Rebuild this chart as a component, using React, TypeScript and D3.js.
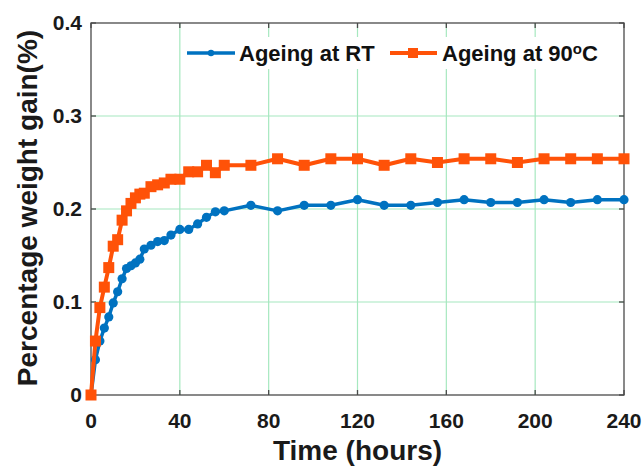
import { useEffect, useRef } from 'react'
import * as d3 from 'd3'

// sampling times (hours)
const TIMES = [0, 2, 4, 6, 8, 10, 12, 14, 16, 18, 20, 22, 24, 27, 30, 33, 36, 40, 44, 48, 52, 56, 60,
  72, 84, 96, 108, 120, 132, 144, 156, 168, 180, 192, 204, 216, 228, 240]

const RT_GAIN = [0, 0.038, 0.058, 0.072, 0.084, 0.099, 0.111, 0.125, 0.136, 0.139, 0.142, 0.146, 0.157,
  0.161, 0.165, 0.166, 0.172, 0.178, 0.178, 0.184, 0.191, 0.197, 0.198,
  0.204, 0.198, 0.204, 0.204, 0.21, 0.204, 0.204, 0.207, 0.21, 0.207, 0.207, 0.21, 0.207, 0.21, 0.21]

const HOT_GAIN = [0, 0.058, 0.094, 0.116, 0.137, 0.16, 0.167, 0.188, 0.198, 0.206, 0.212, 0.216, 0.217,
  0.224, 0.226, 0.228, 0.232, 0.232, 0.24, 0.24, 0.247, 0.239, 0.247,
  0.247, 0.254, 0.247, 0.254, 0.254, 0.247, 0.254, 0.25, 0.254, 0.254, 0.25, 0.254, 0.254, 0.254, 0.254]

const X_TICKS = [0, 40, 80, 120, 160, 200, 240]
const Y_TICKS = [0, 0.1, 0.2, 0.3, 0.4]

const BLUE = '#0072c0'
const ORANGE = '#ff5208'
const GRID = '#a6e8bf'
const AXIS = '#4a4a4a'
const FONT = '"Liberation Sans", Arial, sans-serif'

export default function App() {
  const svgRef = useRef<SVGSVGElement>(null)
  const WIDTH = 644
  const HEIGHT = 468
  const M = { top: 23, right: 20, bottom: 73, left: 91 }
  const IW = WIDTH - M.left - M.right
  const IH = HEIGHT - M.top - M.bottom

  useEffect(() => {
    if (!svgRef.current) return
    const svg = d3.select(svgRef.current)
    svg.selectAll('*').remove()

    const x = d3.scaleLinear().domain([0, 240]).range([0, IW])
    const y = d3.scaleLinear().domain([0, 0.4]).range([IH, 0])

    const g = svg.append('g').attr('transform', `translate(${M.left},${M.top})`)

    // grid
    X_TICKS.slice(1, -1).forEach(t =>
      g.append('line').attr('x1', x(t)).attr('x2', x(t)).attr('y1', 0).attr('y2', IH)
        .attr('stroke', GRID).attr('stroke-width', 1.2))
    Y_TICKS.slice(1, -1).forEach(t =>
      g.append('line').attr('x1', 0).attr('x2', IW).attr('y1', y(t)).attr('y2', y(t))
        .attr('stroke', GRID).attr('stroke-width', 1.2))

    // box + inward ticks
    g.append('rect').attr('x', 0).attr('y', 0).attr('width', IW).attr('height', IH)
      .attr('fill', 'none').attr('stroke', AXIS).attr('stroke-width', 1.3)
    X_TICKS.forEach(t => {
      g.append('line').attr('x1', x(t)).attr('x2', x(t)).attr('y1', IH).attr('y2', IH - 5)
        .attr('stroke', AXIS).attr('stroke-width', 1.3)
      g.append('line').attr('x1', x(t)).attr('x2', x(t)).attr('y1', 0).attr('y2', 5)
        .attr('stroke', AXIS).attr('stroke-width', 1.3)
    })
    Y_TICKS.forEach(t => {
      g.append('line').attr('x1', 0).attr('x2', 5).attr('y1', y(t)).attr('y2', y(t))
        .attr('stroke', AXIS).attr('stroke-width', 1.3)
      g.append('line').attr('x1', IW).attr('x2', IW - 5).attr('y1', y(t)).attr('y2', y(t))
        .attr('stroke', AXIS).attr('stroke-width', 1.3)
    })

    // tick labels
    X_TICKS.forEach(t =>
      g.append('text').attr('x', x(t)).attr('y', IH + 33).attr('text-anchor', 'middle')
        .attr('font-family', FONT).attr('font-weight', 'bold').attr('font-size', 21)
        .attr('fill', '#1a1a1a').text(String(t)))
    Y_TICKS.forEach(t =>
      g.append('text').attr('x', -9).attr('y', y(t) + 7).attr('text-anchor', 'end')
        .attr('font-family', FONT).attr('font-weight', 'bold').attr('font-size', 21)
        .attr('fill', '#1a1a1a').text(t === 0 ? '0' : t.toFixed(1)))

    // axis titles
    g.append('text').attr('x', IW / 2).attr('y', IH + 65).attr('text-anchor', 'middle')
      .attr('font-family', FONT).attr('font-weight', 'bold').attr('font-size', 28)
      .attr('fill', '#1a1a1a').text('Time (hours)')
    g.append('text').attr('transform', 'rotate(-90)').attr('x', -IH / 2 + 1).attr('y', -54)
      .attr('text-anchor', 'middle').attr('font-family', FONT).attr('font-weight', 'bold')
      .attr('font-size', 28).attr('fill', '#1a1a1a').text('Percentage weight gain(%)')

    // series
    const line = d3.line<number>().x((_, i) => x(TIMES[i])).y(d => y(d))
    g.append('path').datum(RT_GAIN).attr('d', line).attr('fill', 'none')
      .attr('stroke', BLUE).attr('stroke-width', 3.5).attr('stroke-linejoin', 'round')
    RT_GAIN.forEach((v, i) =>
      g.append('circle').attr('cx', x(TIMES[i])).attr('cy', y(v)).attr('r', 4.6).attr('fill', BLUE))

    g.append('path').datum(HOT_GAIN).attr('d', line).attr('fill', 'none')
      .attr('stroke', ORANGE).attr('stroke-width', 4).attr('stroke-linejoin', 'round')
    HOT_GAIN.forEach((v, i) =>
      g.append('rect').attr('x', x(TIMES[i]) - 5.5).attr('y', y(v) - 5.5)
        .attr('width', 11).attr('height', 11).attr('fill', ORANGE))

    // legend
    const lg = svg.append('g')
    lg.append('rect').attr('x', 183).attr('y', 37).attr('width', 428).attr('height', 32).attr('fill', '#fff')
    lg.append('line').attr('x1', 187).attr('x2', 235).attr('y1', 53).attr('y2', 53)
      .attr('stroke', BLUE).attr('stroke-width', 3.5)
    lg.append('circle').attr('cx', 211).attr('cy', 53).attr('r', 3.2).attr('fill', BLUE)
    lg.append('text').attr('x', 239).attr('y', 61).attr('font-family', FONT).attr('font-weight', 'bold')
      .attr('font-size', 22).attr('fill', '#111').text('Ageing at RT')
    lg.append('line').attr('x1', 390).attr('x2', 437).attr('y1', 53).attr('y2', 53)
      .attr('stroke', ORANGE).attr('stroke-width', 4)
    lg.append('rect').attr('x', 408).attr('y', 48).attr('width', 10).attr('height', 10).attr('fill', ORANGE)
    const t2 = lg.append('text').attr('x', 442).attr('y', 61).attr('font-family', FONT)
      .attr('font-weight', 'bold').attr('font-size', 22).attr('fill', '#111')
    t2.append('tspan').text('Ageing at 90')
    t2.append('tspan').attr('font-size', 15).attr('dy', -7).text('o')
    t2.append('tspan').attr('dy', 7).text('C')
  }, [])

  return (
    <svg
      ref={svgRef}
      width={WIDTH}
      height={HEIGHT}
      style={{ position: 'absolute', left: 0, top: 0, background: '#fff' }}
    />
  )
}
